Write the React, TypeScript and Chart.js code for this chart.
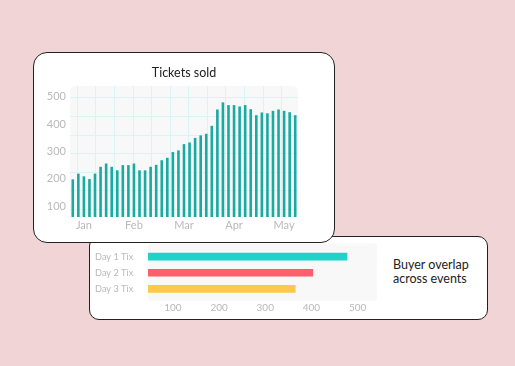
import React, { useEffect, useRef } from "react";
import { Chart, registerables } from "chart.js";

Chart.register(...registerables);

// ---- Data: Tickets sold (top chart) ----
const ticketsSold = [
  198, 219, 209, 199, 219, 244, 256, 244, 231, 250, 250, 256, 231, 231, 244,
  251, 268, 277, 298, 304, 327, 333, 350, 359, 365, 394, 454, 480, 470, 470,
  465, 470, 455, 433, 443, 440, 449, 454, 449, 444, 433,
];
const periodLabels = [
  "", "", "Jan", "", "", "", "", "", "", "", "",
  "Feb", "", "", "", "", "", "", "", "",
  "Mar", "", "", "", "", "", "", "", "",
  "Apr", "", "", "", "", "", "", "", "",
  "May", "", "",
];
const ticketsAxisTicks = [100, 200, 300, 400, 500];
const ticketsTitle = "Tickets sold";

// ---- Data: Buyer overlap (bottom chart) ----
const overlapEvents = ["Day 1 Tix", "Day 2 Tix", "Day 3 Tix"];
const overlapBuyers = [477, 403, 365];
const overlapAxisTicks = [100, 200, 300, 400, 500];
const overlapTitle = ["Buyer overlap", "across events"];

const FONT = "Lato, 'Noto Sans', sans-serif";
const TICK_COLOR = "#b9b9b9";

function roundRect(ctx: CanvasRenderingContext2D, x: number, y: number, w: number, h: number, r: number) {
  ctx.beginPath();
  ctx.moveTo(x + r, y);
  ctx.lineTo(x + w - r, y);
  ctx.quadraticCurveTo(x + w, y, x + w, y + r);
  ctx.lineTo(x + w, y + h - r);
  ctx.quadraticCurveTo(x + w, y + h, x + w - r, y + h);
  ctx.lineTo(x + r, y + h);
  ctx.quadraticCurveTo(x, y + h, x, y + h - r);
  ctx.lineTo(x, y + r);
  ctx.quadraticCurveTo(x, y, x + r, y);
  ctx.closePath();
}

const topBgPlugin = {
  id: "topBg",
  beforeDraw(chart: any) {
    const { ctx, chartArea } = chart;
    if (!chartArea) return;
    const { left, top, right, bottom } = chartArea;
    ctx.save();
    roundRect(ctx, left, top, right - left, bottom - top, 6);
    ctx.fillStyle = "#f8f8f8";
    ctx.fill();
    ctx.clip();
    ctx.strokeStyle = "#daf3f3";
    ctx.lineWidth = 1;
    const step = 18.6;
    for (let x = left + 6.7; x < right; x += step) {
      ctx.beginPath();
      ctx.moveTo(Math.round(x) + 0.5, top);
      ctx.lineTo(Math.round(x) + 0.5, bottom);
      ctx.stroke();
    }
    for (let y = top + 11.3; y < bottom; y += step) {
      ctx.beginPath();
      ctx.moveTo(left, Math.round(y) + 0.5);
      ctx.lineTo(right, Math.round(y) + 0.5);
      ctx.stroke();
    }
    ctx.restore();
  },
};

const bottomBgPlugin = {
  id: "bottomBg",
  beforeDraw(chart: any) {
    const { ctx, chartArea } = chart;
    if (!chartArea) return;
    const { left, top, right, bottom } = chartArea;
    ctx.save();
    roundRect(ctx, left, top - 5, right - left, bottom - top + 9, 4);
    ctx.fillStyle = "#f8f8f8";
    ctx.fill();
    ctx.restore();
  },
};

function zeroPad(scale: any) {
  scale.paddingTop = 0;
  scale.paddingBottom = 0;
  scale.paddingLeft = 0;
  scale.paddingRight = 0;
}

function TicketsChart() {
  const ref = useRef<HTMLCanvasElement | null>(null);
  useEffect(() => {
    if (!ref.current) return;
    const chart = new Chart(ref.current, {
      type: "bar",
      data: {
        labels: periodLabels,
        datasets: [
          {
            data: ticketsSold,
            backgroundColor: "#19aaa1",
            borderWidth: 0,
            barPercentage: 0.52,
            categoryPercentage: 0.9,
          },
        ],
      },
      options: {
        responsive: false,
        animation: false,
        devicePixelRatio: 1,
        layout: { padding: { top: 6, right: 12, left: 0, bottom: 0 } },
        plugins: { legend: { display: false }, tooltip: { enabled: false }, title: { display: false } },
        scales: {
          x: {
            offset: true,
            grid: { display: false, drawTicks: false },
            border: { display: false },
            ticks: {
              autoSkip: false,
              maxRotation: 0,
              padding: 2,
              color: TICK_COLOR,
              font: { family: FONT, size: 11 },
            },
            afterFit(scale: any) {
              scale.height = 23;
              zeroPad(scale);
            },
          },
          y: {
            min: 60,
            max: 540,
            grid: { display: false, drawTicks: false },
            border: { display: false },
            ticks: {
              padding: 4,
              color: TICK_COLOR,
              font: { family: FONT, size: 11 },
            },
            afterBuildTicks(scale: any) {
              scale.ticks = ticketsAxisTicks.map((v) => ({ value: v }));
            },
            afterFit(scale: any) {
              scale.width = 30;
              zeroPad(scale);
            },
          },
        },
      },
      plugins: [topBgPlugin],
    } as any);
    return () => chart.destroy();
  }, []);
  return <canvas ref={ref} width={270} height={160} style={{ position: "absolute", left: 40, top: 80, width: 270, height: 160 }} />;
}

function OverlapChart() {
  const ref = useRef<HTMLCanvasElement | null>(null);
  useEffect(() => {
    if (!ref.current) return;
    const chart = new Chart(ref.current, {
      type: "bar",
      data: {
        labels: overlapEvents,
        datasets: [
          {
            data: overlapBuyers,
            backgroundColor: ["#1fd3c9", "#ff5e6d", "#fdc94d"],
            borderWidth: 0,
            barThickness: 7,
          },
        ],
      },
      options: {
        indexAxis: "y",
        responsive: false,
        animation: false,
        devicePixelRatio: 1,
        layout: { padding: { top: 8.5, right: 5, left: 0, bottom: 0 } },
        plugins: { legend: { display: false }, tooltip: { enabled: false } },
        scales: {
          x: {
            min: 46,
            max: 542,
            grid: { display: false, drawTicks: false },
            border: { display: false },
            ticks: {
              maxRotation: 0,
              padding: 5,
              color: TICK_COLOR,
              font: { family: FONT, size: 10 },
            },
            afterBuildTicks(scale: any) {
              scale.ticks = overlapAxisTicks.map((v) => ({ value: v }));
            },
            afterFit(scale: any) {
              scale.height = 21;
              zeroPad(scale);
            },
          },
          y: {
            grid: { display: false, drawTicks: false },
            border: { display: false },
            ticks: {
              autoSkip: false,
              padding: 14.7,
              color: TICK_COLOR,
              font: { family: FONT, size: 9.2 },
            },
            afterFit(scale: any) {
              scale.width = 64;
              zeroPad(scale);
            },
          },
        },
      },
      plugins: [bottomBgPlugin],
    } as any);
    return () => chart.destroy();
  }, []);
  return <canvas ref={ref} width={298} height={78} style={{ position: "absolute", left: 84, top: 240, width: 298, height: 78 }} />;
}

export default function App() {
  return (
    <div
      style={{
        position: "fixed",
        left: 0,
        top: 0,
        width: 515,
        height: 366,
        background: "#f0d4d6",
        overflow: "hidden",
        fontFamily: FONT,
      }}
    >
      {/* bottom card */}
      <div
        style={{
          position: "absolute",
          left: 89,
          top: 236,
          width: 399,
          height: 84,
          boxSizing: "border-box",
          border: "1.5px solid #222",
          borderRadius: 10,
          background: "#fff",
          zIndex: 1,
        }}
      />
      <div style={{ position: "absolute", left: 0, top: 0, zIndex: 1 }}>
        <OverlapChart />
        <div
          style={{
            position: "absolute",
            left: 393,
            top: 258,
            fontSize: 12.5,
            lineHeight: "14px",
            color: "#222",
            whiteSpace: "nowrap",
          }}
        >
          {overlapTitle[0]}
          <br />
          {overlapTitle[1]}
        </div>
      </div>
      {/* top card */}
      <div
        style={{
          position: "absolute",
          left: 33,
          top: 52,
          width: 302,
          height: 191,
          boxSizing: "border-box",
          border: "1.5px solid #222",
          borderRadius: 14,
          background: "#fff",
          zIndex: 2,
        }}
      />
      <div style={{ position: "absolute", left: 0, top: 0, zIndex: 3 }}>
        <div
          style={{
            position: "absolute",
            left: 33,
            width: 302,
            top: 65,
            textAlign: "center",
            fontSize: 12.5,
            lineHeight: "15px",
            color: "#222",
          }}
        >
          {ticketsTitle}
        </div>
        <TicketsChart />
      </div>
    </div>
  );
}
